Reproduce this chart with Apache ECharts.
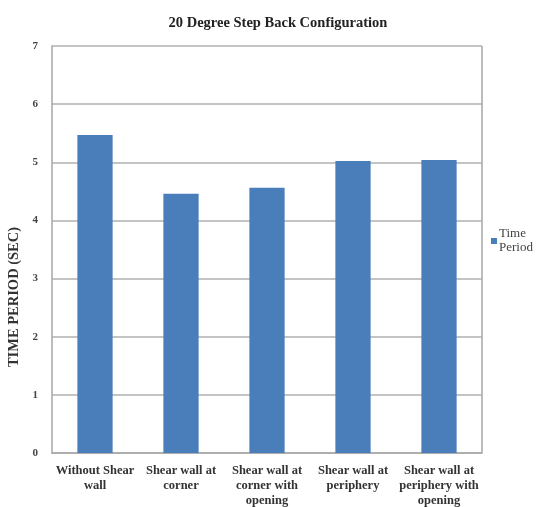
<!DOCTYPE html>
<html>
<head>
<meta charset="utf-8">
<script src="https://cdn.jsdelivr.net/npm/echarts@6/dist/echarts.min.js"></script>
<style>
  html, body { margin: 0; padding: 0; background: #fff; }
  #chart { width: 545px; height: 507px; }
</style>
</head>
<body>
<div id="chart"></div>
<script>
// Fundamental time period for each shear wall arrangement
const categories = [
  'Without Shear\nwall',
  'Shear wall at\ncorner',
  'Shear wall at\ncorner with\nopening',
  'Shear wall at\nperiphery',
  'Shear wall at\nperiphery with\nopening'
];
const timePeriod = [5.47, 4.46, 4.56, 5.02, 5.04];
const yTicks = [0, 1, 2, 3, 4, 5, 6, 7];

const serif = '"Liberation Serif", "Times New Roman", serif';
const chart = echarts.init(document.getElementById('chart'), null, { renderer: 'canvas' });

chart.setOption({
  animation: false,
  backgroundColor: '#ffffff',
  title: {
    text: '20 Degree Step Back Configuration',
    left: 273,
    top: 11,
    textAlign: 'center',
    textStyle: { fontFamily: serif, fontWeight: 'bold', fontSize: 14.5, color: '#222' }
  },
  grid: { left: 52, right: 63, top: 46, bottom: 54, containLabel: false, outerBoundsMode: 'none' },
  legend: {
    data: ['Time\nPeriod'],
    orient: 'vertical',
    left: 486,
    top: 222,
    icon: 'rect',
    itemWidth: 6,
    itemHeight: 6,
    itemGap: 4,
    textStyle: { fontFamily: serif, fontSize: 13, color: '#444', lineHeight: 14, padding: [0, 0, 0, -3] }
  },
  xAxis: {
    type: 'category',
    data: categories,
    axisTick: { show: false },
    axisLine: { lineStyle: { color: '#a6a6a6', width: 1.5 } },
    axisLabel: {
      interval: 0,
      fontFamily: serif,
      fontWeight: 'bold',
      fontSize: 12.5,
      lineHeight: 15,
      color: '#333',
      margin: 10
    }
  },
  yAxis: {
    type: 'value',
    min: yTicks[0],
    max: yTicks[yTicks.length - 1],
    interval: 1,
    name: 'TIME PERIOD (SEC)',
    nameLocation: 'middle',
    nameGap: 27,
    nameTextStyle: {
      fontFamily: serif, fontWeight: 'bold', fontSize: 14.5, color: '#333',
      padding: [0, 0, 0, -95]
    },
    axisLine: { show: true, lineStyle: { color: '#a6a6a6', width: 1.5 } },
    axisTick: { show: false },
    axisLabel: { fontFamily: serif, fontWeight: 'bold', fontSize: 11, color: '#444', margin: 14 },
    splitLine: { lineStyle: { color: '#b0b0b0', width: 1.5 } }
  },
  series: [{
    name: 'Time\nPeriod',
    type: 'bar',
    data: timePeriod,
    barWidth: '41%',
    itemStyle: { color: '#4a7ebb' }
  }],
  graphic: [{
    type: 'line',
    shape: { x1: 482, y1: 46, x2: 482, y2: 453 },
    style: { stroke: '#a6a6a6', lineWidth: 1.5 }
  }]
});
</script>
</body>
</html>
